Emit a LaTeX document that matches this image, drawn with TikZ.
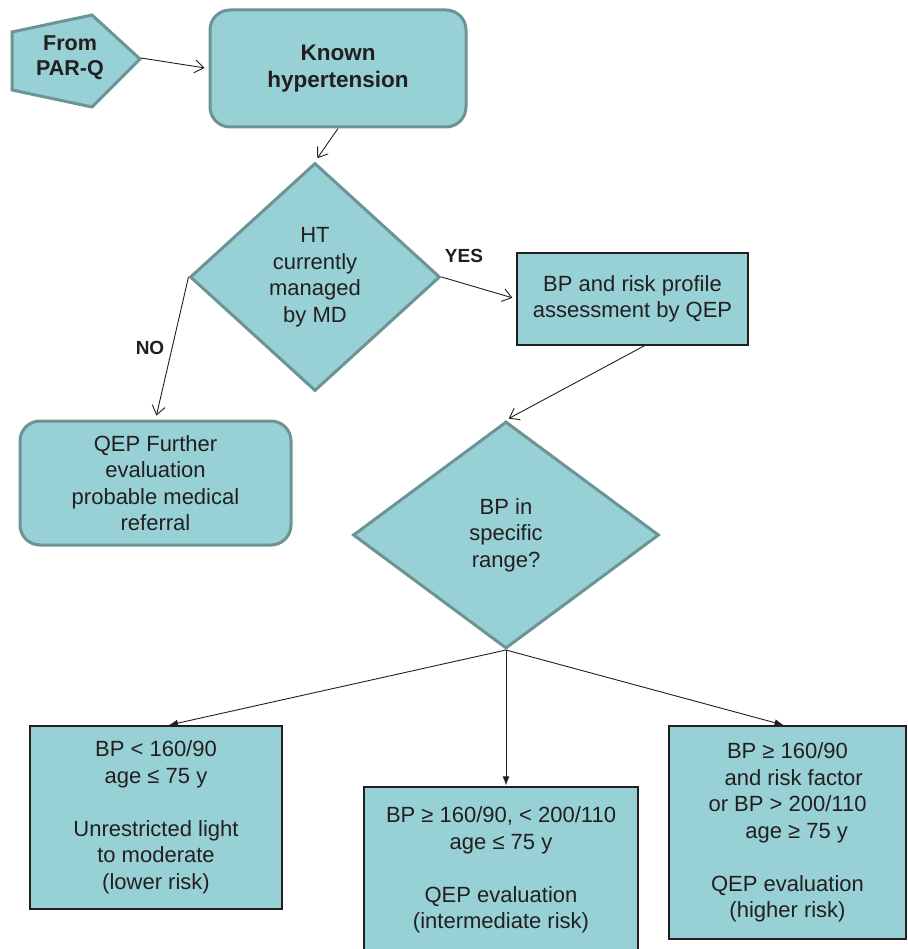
\documentclass[tikz,border=0pt]{standalone}
\usepackage{fontspec}
\setmainfont{Liberation Sans}
\usetikzlibrary{shapes.geometric,arrows.meta}
\definecolor{boxfill}{RGB}{151,209,213}
\definecolor{rimteal}{RGB}{108,148,149}
\definecolor{ink}{RGB}{35,31,32}
\tikzset{
  every node/.style={text=ink, font=\fontsize{22}{26.5}\selectfont},
  roundbox/.style={draw=rimteal, line width=3pt, fill=boxfill, rounded corners=20pt, align=center, inner sep=0pt},
  plainbox/.style={draw=ink, line width=1.4pt, fill=boxfill, align=center, inner sep=0pt},
  decision/.style={diamond, draw=rimteal, line width=3pt, fill=boxfill, align=center, inner sep=0pt},
  openarr/.style={draw=ink, line width=0.9pt, -{Straight Barb[length=9pt,width=13pt]}},
  solidarr/.style={draw=ink, line width=0.9pt, -{Latex[length=9pt,width=7pt]}},
  branchlabel/.style={font=\fontsize{19}{22}\selectfont\bfseries},
}
\begin{document}
\begin{tikzpicture}[x=1pt, y=-1pt]
  \clip (0,0) rectangle (907,949);
  \fill[white] (0,0) rectangle (907,949);

  % entry point: pentagon coming from the PAR-Q
  \draw[draw=rimteal, line width=3pt, fill=boxfill]
    (12,32) -- (92,15) -- (140,59) -- (92,107) -- (12,90) -- cycle;
  \coordinate (parqtip) at (141,58);
  \node[font=\fontsize{21.5}{25.5}\selectfont\bfseries, align=center] (parq) at (70,57.5) {From\\PAR-Q};

  % boxes
  \node[roundbox, minimum width=256pt, minimum height=117pt,
        font=\fontsize{22.5}{27}\selectfont\bfseries] (known) at (338,68.5) {Known\\hypertension};
  \node[decision, minimum width=250pt, minimum height=228pt] (managed) at (315,277)
        {HT\\currently\\managed\\by MD};
  \node[plainbox, minimum width=231pt, minimum height=92pt] (assess) at (632.5,299)
        {BP and risk profile\\assessment by QEP};
  \node[roundbox, minimum width=271pt, minimum height=124pt] (further) at (155.5,483)
        {QEP Further\\evaluation\\probable medical\\referral};
  \node[decision, minimum width=306pt, minimum height=227pt] (range) at (506,535)
        {BP in\\specific\\range?};
  \node[plainbox, minimum width=252pt, minimum height=183pt] (lower) at (156,817.5)
        {BP < 160/90\\age ≤ 75 y\\[26.5pt]Unrestricted light\\to moderate\\(lower risk)};
  \node[plainbox, minimum width=274pt, minimum height=166pt] (inter) at (501,870)
        {BP ≥ 160/90, < 200/110\\age ≤ 75 y\\[26.5pt]QEP evaluation\\(intermediate risk)};
  \node[plainbox, minimum width=237pt, minimum height=213pt] (higher) at (787.5,832.5)
        {BP ≥ 160/90\\\ \ and risk factor\\or BP > 200/110\\\ \ \ age ≥ 75 y\\[26.5pt]QEP evaluation\\(higher risk)};

  % connectors
  \draw[openarr, shorten >=4pt] (parqtip) -- (known.west);
  \draw[openarr, shorten >=4pt] (known.south) -- (managed.north);
  \draw[openarr, shorten >=4pt] (managed.east) -- (assess.west);
  \draw[openarr, shorten >=4pt] (managed.west) -- (further.north);
  \draw[openarr, shorten >=3pt] ([xshift=12pt]assess.south) -- (range.north);
  \draw[solidarr, shorten >=1pt] (range.south) -- ([xshift=12pt]lower.north);
  \draw[solidarr, shorten >=1pt] (range.south) -- ([xshift=5pt]inter.north);
  \draw[solidarr, shorten >=1pt] (range.south) -- ([xshift=-3pt]higher.north);

  % branch labels
  \node[branchlabel] (yes) at (464,256) {YES};
  \node[branchlabel] (no) at (150,348) {NO};
\end{tikzpicture}
\end{document}
